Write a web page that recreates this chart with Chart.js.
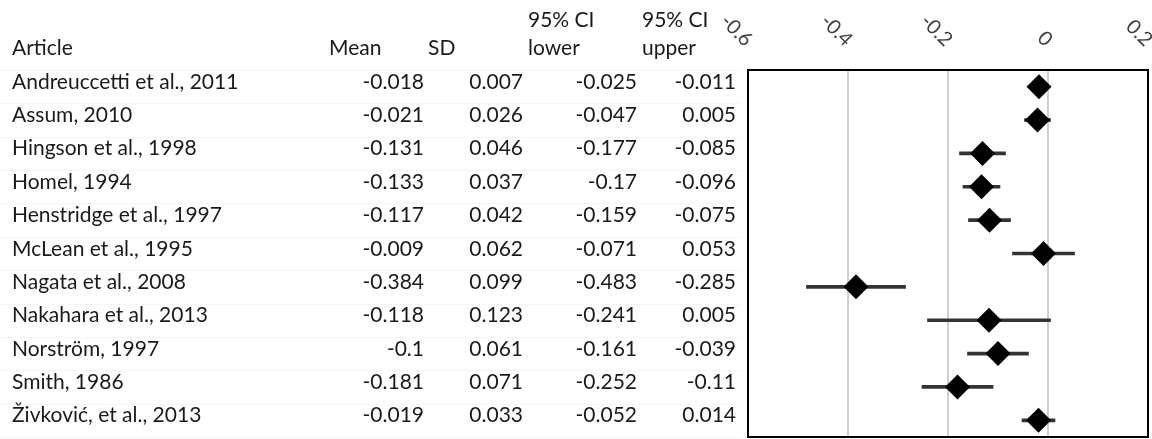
<!DOCTYPE html>
<html>
<head>
<meta charset="utf-8">
<script src="https://cdn.jsdelivr.net/npm/chart.js@4"></script>
<style>
  body { margin: 0; background: #fff; }
  #wrap { position: relative; width: 1152px; height: 439px; }
</style>
</head>
<body>
<div id="wrap"><canvas id="forest"></canvas></div>
<script>
const articles = ['Andreuccetti et al., 2011', 'Assum, 2010', 'Hingson et al., 1998', 'Homel, 1994',
    'Henstridge et al., 1997', 'McLean et al., 1995', 'Nagata et al., 2008', 'Nakahara et al., 2013',
    'Norström, 1997', 'Smith, 1986', 'Živković, et al., 2013']
const means = [-0.018, -0.021, -0.131, -0.133, -0.117, -0.009, -0.384, -0.118, -0.1, -0.181, -0.019]
const sds = [0.007, 0.026, 0.046, 0.037, 0.042, 0.062, 0.099, 0.123, 0.061, 0.071, 0.033]
const ciLower = [-0.025, -0.047, -0.177, -0.17, -0.159, -0.071, -0.483, -0.241, -0.161, -0.252, -0.052]
const ciUpper = [-0.011, 0.005, -0.085, -0.096, -0.075, 0.053, -0.285, 0.005, -0.039, -0.11, 0.014]
const xTicks = [-0.6, -0.4, -0.2, 0, 0.2]

const tableFont = '21px Lato'

// left table: article name + numbers, rows follow the y scale
const tablePlugin = {
    id: 'table',
    afterDraw(chart) {
        const ctx = chart.ctx
        const y = chart.scales.y
        ctx.save()

        // faint cell lines
        ctx.strokeStyle = '#f6f6f6'
        ctx.lineWidth = 1
        const step = y.getPixelForValue(1) - y.getPixelForValue(0)
        for (let i = 0; i <= articles.length; i++) {
            const ly = Math.round(y.getPixelForValue(i) - step / 2) + 0.5
            ctx.beginPath()
            ctx.moveTo(0, ly)
            ctx.lineTo(740, ly)
            ctx.stroke()
        }

        ctx.fillStyle = '#1a1a1a'
        ctx.font = tableFont
        ctx.textBaseline = 'alphabetic'

        // headers
        ctx.textAlign = 'left'
        ctx.fillText('Article', 12, 55)
        ctx.fillText('Mean', 329, 55)
        ctx.fillText('SD', 428, 55)
        ctx.fillText('95% CI', 528, 27)
        ctx.fillText('lower', 528, 55)
        ctx.fillText('95% CI', 642, 27)
        ctx.fillText('upper', 642, 55)

        articles.forEach((name, i) => {
            const py = y.getPixelForValue(i) + 2
            ctx.textAlign = 'left'
            ctx.fillText(name, 12, py)
            ctx.textAlign = 'right'
            ctx.fillText(String(means[i]), 424, py)
            ctx.fillText(String(sds[i]), 523, py)
            ctx.fillText(String(ciLower[i]), 637, py)
            ctx.fillText(String(ciUpper[i]), 736, py)
        })
        ctx.restore()
    }
}

// black box round the plot + slanted tick labels on top
const framePlugin = {
    id: 'frame',
    afterDraw(chart) {
        const ctx = chart.ctx
        const a = chart.chartArea
        const x = chart.scales.x
        ctx.save()
        ctx.strokeStyle = '#000'
        ctx.lineWidth = 2
        ctx.strokeRect(a.left, a.top, a.right - a.left, a.bottom - a.top)

        ctx.beginPath()
        ctx.rect(723, 0, chart.width, a.top)
        ctx.clip()
        ctx.fillStyle = '#404040'
        ctx.font = '20px Lato'
        ctx.textAlign = 'right'
        ctx.textBaseline = 'middle'
        xTicks.forEach(v => {
            const px = x.getPixelForValue(v)
            ctx.save()
            ctx.translate(px + 1, 43)
            ctx.rotate(Math.PI / 4)
            ctx.fillText(String(v), 0, 0)
            ctx.restore()
        })
        ctx.restore()
    }
}

new Chart(document.getElementById('forest'), {
    type: 'bar',
    data: {
        labels: articles,
        datasets: [{
            type: 'line',
            label: 'Mean',
            data: means,
            showLine: false,
            pointStyle: 'rectRot',
            pointRadius: 12.5,
            pointBackgroundColor: '#000',
            pointBorderWidth: 0,
            order: 0
        }, {
            label: '95% CI',
            data: ciLower.map((lo, i) => [lo, ciUpper[i]]),
            backgroundColor: '#333',
            barThickness: 3,
            borderSkipped: false,
            order: 1
        }]
    },
    options: {
        indexAxis: 'y',
        responsive: true,
        maintainAspectRatio: false,
        animation: false,
        layout: { autoPadding: false, padding: { left: 748, right: 4, top: 70, bottom: 2 } },
        plugins: { legend: { display: false }, tooltip: { enabled: false } },
        scales: {
            x: {
                position: 'top',
                min: -0.6,
                max: 0.2,
                ticks: { display: false, stepSize: 0.2 },
                border: { display: false },
                grid: {
                    drawTicks: false,
                    lineWidth: 2,
                    color: ctx => (ctx.index === 0 || ctx.index === 4) ? 'rgba(0,0,0,0)' : '#cfcfcf'
                }
            },
            y: {
                display: false,
                offset: true
            }
        }
    },
    plugins: [tablePlugin, framePlugin]
})
</script>
</body>
</html>
